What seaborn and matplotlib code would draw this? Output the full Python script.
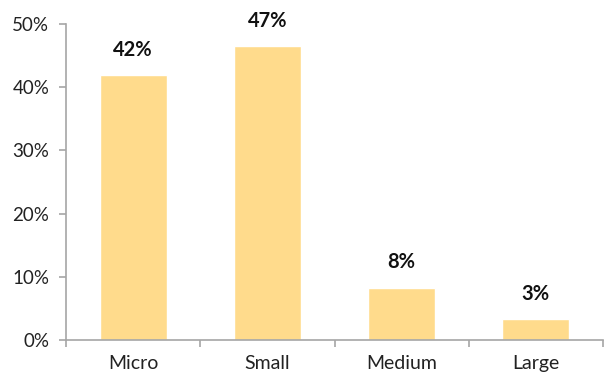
import matplotlib
matplotlib.use("Agg")
import matplotlib.pyplot as plt
import seaborn as sns
import pandas as pd
from matplotlib.ticker import FixedLocator, FuncFormatter

categories = ["Micro", "Small", "Medium", "Large"]
values = [41.9, 46.5, 8.3, 3.3]
labels = ["42%", "47%", "8%", "3%"]

sns.set_theme(style="white")
plt.rcParams['font.family'] = ['Lato', 'DejaVu Sans']

df = pd.DataFrame({"cat": categories, "val": values})

fig = plt.figure(figsize=(6.05, 3.75), dpi=100)
ax = fig.add_axes([66/605, 35/375, (603-66)/605, (340-24)/375])
sns.barplot(data=df, x="cat", y="val", color="#FFDB8C", saturation=1, width=0.5, ax=ax)

ax.set_ylim(0, 50)
ax.set_xlim(-0.5, 3.5)
ax.set_yticks([0, 10, 20, 30, 40, 50])
ax.yaxis.set_major_formatter(FuncFormatter(lambda v, p: f"{int(v)}%"))
ax.set_xlabel("")
ax.set_ylabel("")

for s in ["top", "right"]:
    ax.spines[s].set_visible(False)
for s in ["left", "bottom"]:
    ax.spines[s].set_color("#A6A6A6")
    ax.spines[s].set_linewidth(1.2)

ax.tick_params(axis="y", which="major", length=5, width=1.2, color="#A6A6A6",
               labelsize=13.5, labelcolor="#222222", pad=7, left=True)
ax.tick_params(axis="x", which="major", length=0, labelsize=14, labelcolor="#222222", pad=11)
ax.xaxis.set_minor_locator(FixedLocator([-0.5, 0.5, 1.5, 2.5, 3.5]))
ax.tick_params(axis="x", which="minor", length=5, width=1.2, color="#A6A6A6", bottom=True)

for i, (v, lab) in enumerate(zip(values, labels)):
    ax.annotate(lab, (i, v), xytext=(0, 11), textcoords="offset points",
                ha="center", va="bottom", fontsize=14.5, fontweight="bold", color="#111111")

fig.savefig("out.png", dpi=100)
